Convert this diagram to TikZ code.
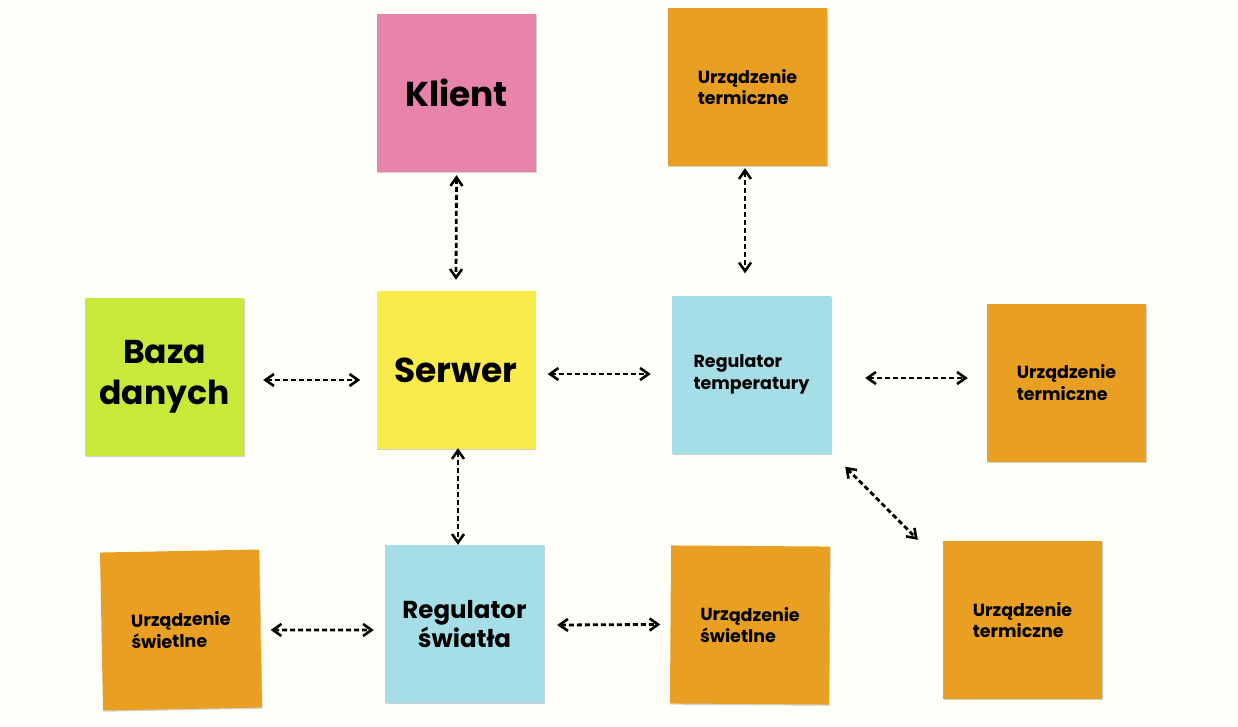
\documentclass[tikz,border=0pt]{standalone}
\usepackage{fontspec}
\setmainfont{Poppins}
\usetikzlibrary{arrows.meta,shadows}
\definecolor{bg}{HTML}{FFFFFA}
\definecolor{cpink}{HTML}{E884AA}
\definecolor{corange}{HTML}{E99F22}
\definecolor{clime}{HTML}{C6E93A}
\definecolor{cyellow}{HTML}{FAEB4D}
\definecolor{cblue}{HTML}{A6DEE7}
\begin{document}
\begin{tikzpicture}[x=1pt,y=-1pt,
  note/.style={minimum width=159pt,minimum height=158pt,inner sep=0pt,align=left,
    drop shadow={shadow xshift=0.6pt,shadow yshift=-1.2pt,opacity=0.18,fill=black}},
  bigtxt/.style={font=\fontsize{34.5}{40}\selectfont\bfseries},
  midtxt/.style={font=\fontsize{24.5}{29}\selectfont\bfseries,align=center},
  smalltxt/.style={font=\fontsize{17.5}{21.5}\selectfont\bfseries},
  link/.style={dash pattern=on 5pt off 3pt,line width=2.8pt,
    {Straight Barb[length=8.5pt,width=12pt,line width=2.6pt]}-{Straight Barb[length=8.5pt,width=12pt,line width=2.6pt]}}]
\fill[bg] (0,0) rectangle (1238,726);
\useasboundingbox (0,0) rectangle (1238,726);

\node[note,fill=cpink,bigtxt] (klient) at (456.5,93) {Klient};
\node[note,fill=corange,smalltxt] (term1) at (747.5,87) {Urządzenie\\termiczne};
\node[note,fill=clime,font=\fontsize{33}{41}\selectfont\bfseries,align=center] (baza) at (164.5,376.5) {Baza\\danych};
\node[note,fill=cyellow,bigtxt] (serwer) at (456,370) {Serwer};
\node[note,fill=cblue,smalltxt] (regt) at (751.5,374.5) {Regulator\\temperatury};
\node[note,fill=corange,smalltxt] (term2) at (1066.5,382.5) {Urządzenie\\termiczne};
\node[note,fill=corange,smalltxt,rotate=1.1] (swl) at (181,630) {Urządzenie\\świetlne};
\node[note,fill=cblue,midtxt] (regs) at (464.5,624) {Regulator\\światła};
\node[note,fill=corange,smalltxt,rotate=-0.4] (swm) at (750,625) {Urządzenie\\świetlne};
\node[note,fill=corange,smalltxt] (term3) at (1022.5,620) {Urządzenie\\termiczne};

\draw[link] ([yshift=-3pt]klient.south) -- ([yshift=11pt]serwer.north);
\draw[link] ([xshift=-2.5pt,yshift=-2pt]term1.south) -- ([xshift=-6.5pt,yshift=22pt]regt.north);
\draw[link] ([xshift=19pt,yshift=-3.5pt]baza.east) -- ([xshift=-16pt,yshift=-10pt]serwer.west);
\draw[link] ([xshift=12pt,yshift=-4pt]serwer.east) -- ([xshift=-21pt,yshift=0.5pt]regt.west);
\draw[link] ([xshift=34pt,yshift=-3.5pt]regt.east) -- ([xshift=-19pt,yshift=4.5pt]term2.west);
\draw[link] ([xshift=2pt,yshift=1pt]serwer.south) -- ([xshift=-6.5pt,yshift=0pt]regs.north);
\draw[link] ([xshift=14pt,yshift=-13pt]regt.south east) -- ([xshift=-25pt,yshift=1pt]term3.north west);
\draw[link] ([xshift=10pt,yshift=-1.5pt]swl.east) -- ([xshift=-11pt,yshift=-6pt]regs.west);
\draw[link] ([xshift=13pt,yshift=-1pt]regs.east) -- ([xshift=-10pt,yshift=0pt]swm.west);
\end{tikzpicture}
\end{document}
